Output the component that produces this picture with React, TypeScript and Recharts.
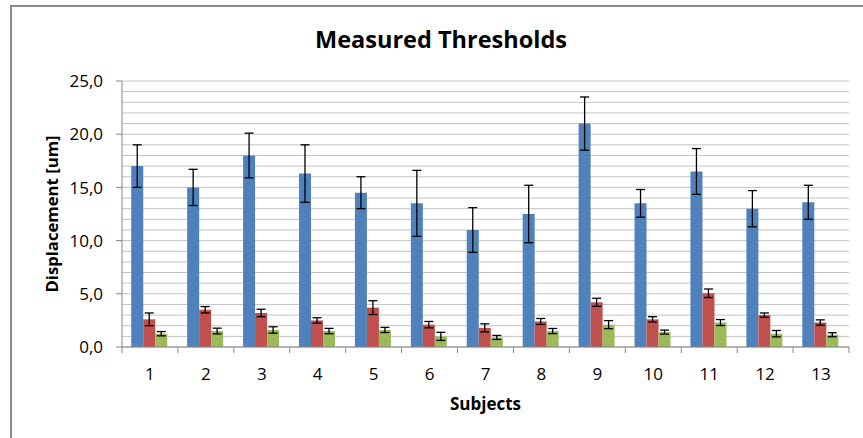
import React from 'react';
import { BarChart, Bar, XAxis, YAxis, CartesianGrid, ErrorBar, Label } from 'recharts';

const subjects = ['1', '2', '3', '4', '5', '6', '7', '8', '9', '10', '11', '12', '13'];
const blueValues = [17.0, 15.0, 18.0, 16.3, 14.5, 13.5, 11.0, 12.5, 21.0, 13.5, 16.5, 13.0, 13.6];
const blueErrors = [2.0, 1.7, 2.1, 2.7, 1.5, 3.1, 2.1, 2.7, 2.5, 1.3, 2.15, 1.7, 1.6];
const redValues = [2.6, 3.5, 3.2, 2.5, 3.7, 2.1, 1.8, 2.4, 4.2, 2.6, 5.05, 3.0, 2.3];
const redErrors = [0.6, 0.3, 0.35, 0.25, 0.65, 0.3, 0.38, 0.28, 0.38, 0.25, 0.4, 0.2, 0.25];
const greenValues = [1.25, 1.5, 1.6, 1.5, 1.6, 1.0, 0.9, 1.5, 2.1, 1.4, 2.3, 1.25, 1.15];
const greenErrors = [0.2, 0.27, 0.3, 0.25, 0.24, 0.38, 0.19, 0.24, 0.38, 0.19, 0.28, 0.3, 0.19];
const yTicks = [0, 1, 2, 3, 4, 5, 6, 7, 8, 9, 10, 11, 12, 13, 14, 15, 16, 17, 18, 19, 20, 21, 22, 23, 24, 25];
const majorStep = 5;

const data = subjects.map((s, i) => ({
  subject: s,
  blue: blueValues[i],
  blueErr: blueErrors[i],
  red: redValues[i],
  redErr: redErrors[i],
  green: greenValues[i],
  greenErr: greenErrors[i],
}));

const FONT = '"Open Sans", sans-serif';
const AXIS_GRAY = '#868686';
const GRID_GRAY = '#c4c4c4';
const X_TICK_MARGIN = 33;
const Y_TICK_MARGIN = 19;

function YTick(props: any) {
  const { x, y, payload } = props;
  const v = payload.value as number;
  if (v % majorStep !== 0) return null;
  return (
    <g>
      <line x1={x + Y_TICK_MARGIN - 6} x2={x + Y_TICK_MARGIN} y1={y} y2={y} stroke={AXIS_GRAY} strokeWidth={1} />
      <text x={x} y={y} dy="0.36em" textAnchor="end" fontSize={17} fill="#000" fontFamily={FONT}>
        {v.toFixed(1).replace('.', ',')}
      </text>
    </g>
  );
}

function XTick(props: any) {
  const { x, y, payload, index, visibleTicksCount } = props;
  const half = payload.offset ?? 0;
  const axisY = y - X_TICK_MARGIN;
  return (
    <g>
      <line x1={x - half} x2={x - half} y1={axisY} y2={axisY + 6} stroke={AXIS_GRAY} strokeWidth={1} />
      {index === visibleTicksCount - 1 && (
        <line x1={x + half} x2={x + half} y1={axisY} y2={axisY + 6} stroke={AXIS_GRAY} strokeWidth={1} />
      )}
      <text x={x} y={y} textAnchor="middle" fontSize={17} fill="#000" fontFamily={FONT}>
        {payload.value}
      </text>
    </g>
  );
}

export default function App() {
  return (
    <div style={{ position: 'absolute', left: 0, top: 0, width: 863, height: 438, background: '#fff' }}>
      <div
        style={{
          position: 'absolute',
          left: 10,
          top: 5,
          width: 853,
          height: 433,
          borderLeft: '2px solid #8a8a8a',
          borderTop: '2px solid #8a8a8a',
          boxSizing: 'border-box',
        }}
      />
      <svg width={863} height={60} style={{ position: 'absolute', left: 0, top: 0 }}>
        <text x={441} y={48} textAnchor="middle" fontSize={23.5} fontWeight="bold" fill="#000" fontFamily={FONT}>
          Measured Thresholds
        </text>
      </svg>
      <div style={{ position: 'absolute', left: 0, top: 0 }}>
        <BarChart
          width={863}
          height={438}
          data={data}
          margin={{ top: 81, right: 14, left: 0, bottom: 0 }}
          barCategoryGap="16.5%"
          barGap={0}
        >
          <CartesianGrid vertical={false} stroke={GRID_GRAY} strokeWidth={1} />
          <XAxis
            dataKey="subject"
            height={91}
            interval={0}
            tickLine={false}
            tickSize={0}
            tickMargin={X_TICK_MARGIN}
            axisLine={{ stroke: AXIS_GRAY }}
            tick={(p: any) => <XTick {...p} />}
          >
            <Label
              content={(p: any) => {
                const vb = p.viewBox;
                return (
                  <text
                    x={vb.x + vb.width / 2}
                    y={vb.y + 63}
                    textAnchor="middle"
                    fontSize={17}
                    fontWeight="bold"
                    fill="#000"
                    fontFamily={FONT}
                  >
                    Subjects
                  </text>
                );
              }}
            />
          </XAxis>
          <YAxis
            width={122}
            domain={[0, 25]}
            ticks={yTicks}
            interval={0}
            tickLine={false}
            tickSize={0}
            tickMargin={Y_TICK_MARGIN}
            axisLine={{ stroke: AXIS_GRAY }}
            tick={(p: any) => <YTick {...p} />}
          >
            <Label
              content={(p: any) => {
                const vb = p.viewBox;
                const cx = vb.x + 51;
                const cy = vb.y + vb.height / 2;
                return (
                  <text
                    x={cx}
                    y={cy}
                    transform={`rotate(-90, ${cx}, ${cy})`}
                    textAnchor="middle"
                    dominantBaseline="central"
                    fontSize={16.7}
                    fontWeight="bold"
                    fill="#000"
                    fontFamily={FONT}
                  >
                    Displacement [um]
                  </text>
                );
              }}
            />
          </YAxis>
          <Bar dataKey="blue" fill="#4F81BD" isAnimationActive={false}>
            <ErrorBar dataKey="blueErr" width={4.5} stroke="#000" strokeWidth={1.3} direction="y" isAnimationActive={false} />
          </Bar>
          <Bar dataKey="red" fill="#C0504D" isAnimationActive={false}>
            <ErrorBar dataKey="redErr" width={4.5} stroke="#000" strokeWidth={1.3} direction="y" isAnimationActive={false} />
          </Bar>
          <Bar dataKey="green" fill="#9BBB59" isAnimationActive={false}>
            <ErrorBar dataKey="greenErr" width={4.5} stroke="#000" strokeWidth={1.3} direction="y" isAnimationActive={false} />
          </Bar>
        </BarChart>
      </div>
    </div>
  );
}
